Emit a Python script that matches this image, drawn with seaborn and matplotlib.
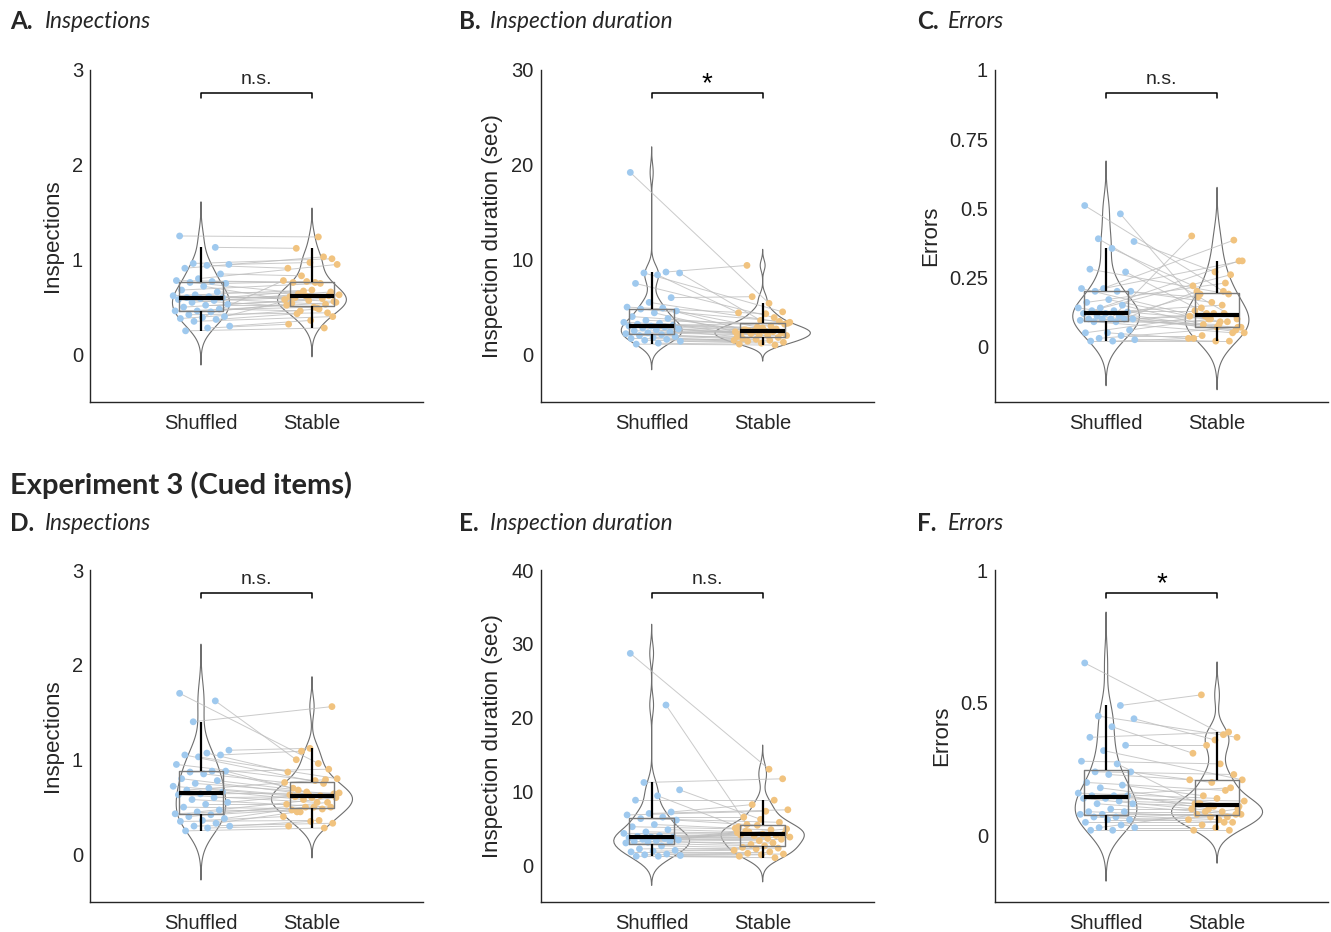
import numpy as np
import pandas as pd
import seaborn as sns
import matplotlib.pyplot as plt

sns.set_style('white')
plt.rcParams['font.family'] = ['Liberation Sans', 'DejaVu Sans']

conditions = ['Shuffled', 'Stable']
point_colors = ['#9fc9ee', '#f1c37f']

# Experiment 2 (top row) - values per participant, same index = same participant
insp_shuf_top = [1.25, 1.13, 0.96, 0.95, 0.94, 0.91, 0.85, 0.80, 0.78, 0.77,
                 0.76, 0.75, 0.72, 0.68, 0.66, 0.63, 0.62, 0.61, 0.60, 0.60,
                 0.59, 0.58, 0.57, 0.55, 0.53, 0.52, 0.50, 0.48, 0.46, 0.46,
                 0.45, 0.42, 0.40, 0.39, 0.38, 0.37, 0.35, 0.30, 0.28, 0.25]
insp_stab_top = [1.24, 1.12, 1.01, 0.97, 0.91, 1.03, 0.83, 0.95, 0.76, 0.76,
                 0.62, 0.77, 0.58, 0.75, 0.64, 0.56, 0.68, 0.61, 0.53, 0.67,
                 0.63, 0.49, 0.60, 0.66, 0.57, 0.52, 0.59, 0.46, 0.55, 0.50,
                 0.54, 0.44, 0.62, 0.78, 0.48, 0.43, 0.40, 0.36, 0.32, 0.28]

dur_shuf_top = [19.2, 8.7, 8.6, 8.6, 8.4, 7.5, 6.0, 5.5, 5.0, 4.9,
                4.8, 4.6, 4.4, 4.0, 3.8, 3.6, 3.4, 3.3, 3.2, 3.1,
                3.0, 3.0, 2.9, 2.8, 2.7, 2.6, 2.5, 2.4, 2.3, 2.2,
                2.1, 2.0, 1.9, 1.8, 1.7, 1.6, 1.5, 1.4, 1.2, 1.1]
dur_stab_top = [5.4, 9.4, 4.5, 3.6, 4.4, 3.9, 6.1, 3.3, 4.3, 2.6,
                3.5, 2.9, 2.4, 3.0, 2.5, 3.2, 2.8, 2.2, 2.7, 2.5,
                3.4, 2.0, 2.6, 2.3, 2.1, 1.9, 2.4, 2.2, 2.0, 2.5,
                1.7, 1.8, 1.6, 1.5, 1.5, 1.4, 1.3, 1.2, 1.1, 1.0]

err_shuf_top = [0.51, 0.48, 0.39, 0.38, 0.355, 0.28, 0.27, 0.21, 0.21, 0.20,
                0.20, 0.20, 0.17, 0.16, 0.15, 0.14, 0.14, 0.13, 0.13, 0.125,
                0.12, 0.12, 0.11, 0.11, 0.10, 0.10, 0.10, 0.10, 0.10, 0.095,
                0.09, 0.09, 0.06, 0.05, 0.05, 0.04, 0.03, 0.025, 0.02, 0.02]
err_stab_top = [0.20, 0.14, 0.10, 0.27, 0.22, 0.19, 0.12, 0.31, 0.09, 0.18,
                0.385, 0.16, 0.11, 0.23, 0.08, 0.31, 0.07, 0.13, 0.26, 0.10,
                0.05, 0.15, 0.19, 0.06, 0.12, 0.40, 0.09, 0.11, 0.07, 0.08,
                0.20, 0.05, 0.10, 0.03, 0.12, 0.04, 0.07, 0.02, 0.03, 0.02]

# Experiment 3 (Cued items)
insp_shuf_bot = [1.70, 1.62, 1.40, 1.10, 1.07, 1.05, 1.05, 1.03, 0.95, 0.88,
                 0.87, 0.88, 0.85, 0.80, 0.78, 0.75, 0.72, 0.70, 0.68, 0.66,
                 0.64, 0.63, 0.60, 0.58, 0.55, 0.53, 0.50, 0.47, 0.45, 0.43,
                 0.42, 0.40, 0.38, 0.36, 0.35, 0.33, 0.30, 0.30, 0.28, 0.25]
insp_stab_bot = [0.96, 1.00, 1.56, 1.12, 0.87, 0.75, 1.09, 0.80, 0.78, 0.70,
                 0.90, 0.66, 0.76, 0.62, 0.68, 0.64, 0.60, 0.63, 0.79, 0.58,
                 0.65, 0.55, 0.61, 0.50, 0.63, 0.53, 0.48, 0.45, 0.60, 0.50,
                 0.47, 0.55, 0.50, 0.40, 0.36, 0.45, 0.33, 0.35, 0.30, 0.28]

dur_shuf_bot = [28.7, 21.7, 11.2, 10.2, 9.4, 8.8, 7.2, 7.0, 6.8, 6.5,
                6.3, 6.1, 5.5, 5.2, 4.8, 4.5, 4.3, 4.0, 3.9, 3.8,
                3.8, 3.7, 3.6, 3.5, 3.4, 3.3, 3.2, 3.2, 3.1, 3.0,
                2.6, 2.2, 2.0, 1.9, 1.8, 1.5, 1.4, 1.3, 1.2, 1.2]
dur_stab_bot = [13.0, 5.5, 11.7, 6.2, 5.2, 8.8, 8.2, 7.5, 7.3, 6.5,
                5.8, 5.4, 5.0, 4.8, 4.5, 4.3, 4.2, 4.1, 4.0, 4.0,
                3.8, 3.6, 4.6, 3.5, 3.3, 4.4, 3.0, 2.8, 4.9, 2.6,
                2.4, 2.3, 2.2, 2.0, 1.8, 1.6, 1.5, 1.4, 1.2, 1.0]

err_shuf_bot = [0.65, 0.49, 0.45, 0.44, 0.41, 0.37, 0.34, 0.32, 0.28, 0.27,
                0.24, 0.24, 0.23, 0.20, 0.19, 0.18, 0.16, 0.15, 0.15, 0.15,
                0.14, 0.14, 0.13, 0.12, 0.12, 0.10, 0.09, 0.09, 0.08, 0.08,
                0.07, 0.07, 0.06, 0.06, 0.05, 0.04, 0.03, 0.03, 0.02, 0.02]
err_stab_bot = [0.38, 0.53, 0.37, 0.36, 0.31, 0.39, 0.34, 0.21, 0.27, 0.12,
                0.23, 0.20, 0.21, 0.17, 0.15, 0.11, 0.14, 0.12, 0.18, 0.10,
                0.13, 0.09, 0.12, 0.08, 0.11, 0.10, 0.07, 0.09, 0.08, 0.06,
                0.08, 0.05, 0.07, 0.06, 0.05, 0.04, 0.10, 0.03, 0.02, 0.02]

# letter, title, ylabel, ylim, yticks, significance, data, violin width, bw adjust
panels = [
    ('A.', 'Inspections', 'Inspections', (-0.5, 3), [0, 1, 2, 3], 'n.s.', insp_shuf_top, insp_stab_top, 0.62, 1.0),
    ('B.', 'Inspection duration', 'Inspection duration (sec)', (-5, 30), [0, 10, 20, 30], '*', dur_shuf_top, dur_stab_top, 0.86, 1.0),
    ('C.', 'Errors', 'Errors', (-0.2, 1), [0, 0.25, 0.5, 0.75, 1], 'n.s.', err_shuf_top, err_stab_top, 0.60, 1.3),
    ('D.', 'Inspections', 'Inspections', (-0.5, 3), [0, 1, 2, 3], 'n.s.', insp_shuf_bot, insp_stab_bot, 0.73, 1.0),
    ('E.', 'Inspection duration', 'Inspection duration (sec)', (-5, 40), [0, 10, 20, 30, 40], 'n.s.', dur_shuf_bot, dur_stab_bot, 0.75, 1.0),
    ('F.', 'Errors', 'Errors', (-0.25, 1), [0, 0.5, 1], '*', err_shuf_bot, err_stab_bot, 0.82, 1.0),
]


def mad_bw(kde):
    # ksdensity-like bandwidth based on median absolute deviation
    x = kde.dataset.ravel()
    sig = np.median(np.abs(x - np.median(x))) / 0.6745
    bw = sig * (4 / (3 * x.size)) ** 0.2
    return bw / x.std(ddof=1)


fig = plt.figure(figsize=(13.31, 9.32), dpi=100)
lefts = [0.0676, 0.4062, 0.7476]
bottoms = [0.5687, 0.0322]
title_y = [0.9764, 0.4388]
letter_x = [0.0075, 0.3445, 0.689]
word_x = [0.0338, 0.3685, 0.7123]
axis_col = '#262626'

for i, (letter, title, ylab, ylim, yticks, sig, shuf, stab, vwidth, bwa) in enumerate(panels):
    r, c = divmod(i, 3)
    ax = fig.add_axes([lefts[c], bottoms[r], 0.2502, 0.3562])
    n = len(shuf)
    df = pd.DataFrame({
        'subj': np.tile(np.arange(n), 2),
        'pos': np.repeat([1, 2], n),
        'cond': np.repeat(conditions, n),
        'val': np.concatenate([shuf, stab]),
    })
    idx = np.arange(n)
    jit_a = ((idx * 0.618034 + 0.13) % 1 - 0.5) * 0.52
    jit_b = ((idx * 0.618034 + 0.61) % 1 - 0.5) * 0.52
    df['xj'] = df['pos'] + np.concatenate([jit_a, jit_b])

    sns.violinplot(data=df, x='pos', y='val', native_scale=True, fill=False,
                   inner=None, color='#6e6e6e', linewidth=0.8, cut=3,
                   bw_method=mad_bw, bw_adjust=bwa, density_norm='area',
                   width=vwidth, ax=ax)
    sns.lineplot(data=df, x='xj', y='val', units='subj', estimator=None,
                 sort=False, color='#bdbdbd', lw=0.7, alpha=0.8, ax=ax)
    for k, cond in enumerate(conditions):
        sub = df[df['cond'] == cond]
        sns.scatterplot(x=sub['xj'], y=sub['val'], color=point_colors[k], s=24,
                        edgecolor='none', zorder=3, ax=ax)
    sns.boxplot(data=df, x='pos', y='val', native_scale=True, width=0.4,
                fill=False, showfliers=False, showcaps=False, color='#7a7a7a',
                boxprops=dict(color='#7a7a7a', lw=1.0),
                whiskerprops=dict(color='black', lw=1.6),
                medianprops=dict(color='black', lw=3.0),
                zorder=4, ax=ax)

    # significance bracket
    tr = ax.get_xaxis_transform()
    ax.plot([1, 1, 2, 2], [0.915, 0.93, 0.93, 0.915], color='black', lw=1.1,
            transform=tr, clip_on=False)
    if sig == '*':
        ax.text(1.5, 0.958, '*', transform=tr, ha='center', va='center',
                fontsize=20, color='black')
    else:
        ax.text(1.5, 0.972, sig, transform=tr, ha='center', va='center',
                fontsize=14, color=axis_col)

    ax.set_xlim(0, 3)
    ax.set_ylim(*ylim)
    ax.set_xticks([1, 2])
    ax.set_xticklabels(conditions)
    ax.set_xticks([3], minor=True)
    ax.set_yticks(yticks)
    ax.set_yticklabels([f'{t:g}' for t in yticks])
    ax.set_xlabel('')
    ax.set_ylabel(ylab, fontsize=16, color=axis_col, labelpad=6)
    ax.tick_params(which='both', direction='in', length=4, width=1,
                   color=axis_col, labelsize=14.5, labelcolor=axis_col)
    ax.tick_params(axis='x', pad=9)
    ax.tick_params(axis='y', pad=5)
    sns.despine(ax=ax)
    for side in ['left', 'bottom']:
        ax.spines[side].set_color(axis_col)
        ax.spines[side].set_linewidth(1.0)
    if ax.get_legend() is not None:
        ax.get_legend().remove()

    fig.text(letter_x[c], title_y[r], letter, fontsize=17.5, fontweight='bold',
             family='Lato', va='center', ha='left')
    fig.text(word_x[c], title_y[r], title, fontsize=16.3, style='italic',
             family='Lato', va='center', ha='left')

fig.text(0.0075, 0.4796, 'Experiment 3 (Cued items)', fontsize=21,
         fontweight='bold', family='Lato', va='center', ha='left')

fig.savefig('out.png', dpi=100)
